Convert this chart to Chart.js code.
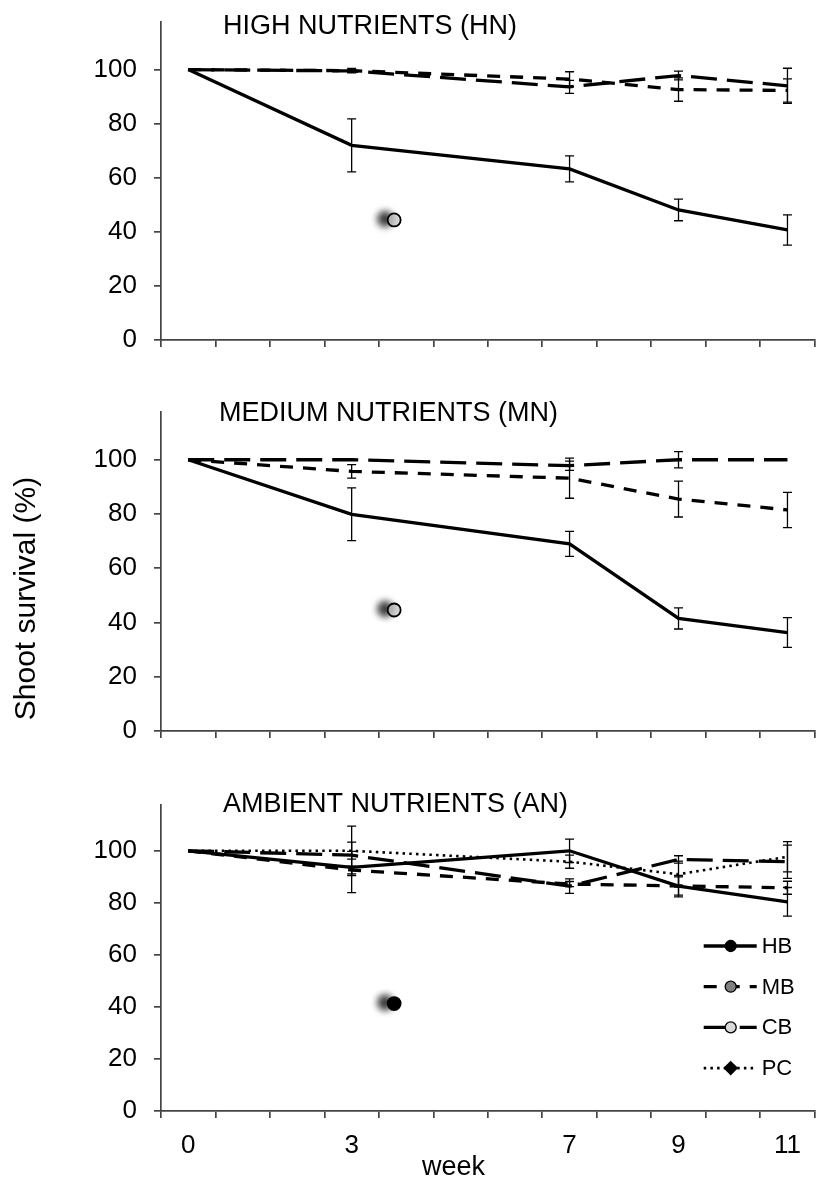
<!doctype html>
<html lang="en">

<head>
	<meta charset="utf-8">
	<title>Shoot survival</title>
	<style>
		* {
			margin: 0;
			padding: 0;
		}

		body {
			width: 823px;
			height: 1182px;
			background: #fff;
			position: relative;
			overflow: hidden;
		}

		canvas {
			position: absolute;
			left: 0;
		}
	</style>
</head>

<body>
	<canvas id="hnChart" width="823" height="375" style="top:0px"></canvas>
	<canvas id="mnChart" width="823" height="395" style="top:375px"></canvas>
	<canvas id="anChart" width="823" height="412" style="top:770px"></canvas>

	<script src="https://cdn.jsdelivr.net/npm/chart.js"></script>

	<script>
		// data
		const weeks = [0, 3, 7, 9, 11]
		const xLabels = ['0', '3', '7', '9', '11']
		const yTicks = [0, 20, 40, 60, 80, 100]
		const seriesNames = ['HB', 'MB', 'CB', 'PC']

		// high nutrients
		const hnHB = [100, 72.0, 63.3, 48.1, 40.7]
		const hnHBerr = [0, 9.8, 4.8, 4.0, 5.6]
		const hnMB = [100, 99.6, 96.5, 92.6, 92.3]
		const hnMBerr = [0, 0.8, 2.7, 4.3, 4.3]
		const hnCB = [100, 99.5, 93.6, 97.8, 94.0]
		const hnCBerr = [0, 0.5, 2.4, 1.6, 6.5]

		// medium nutrients
		const mnHB = [100, 79.9, 69.0, 41.5, 36.3]
		const mnHBerr = [0, 9.7, 4.6, 3.9, 5.5]
		const mnMB = [100, 95.7, 93.2, 85.5, 81.5]
		const mnMBerr = [0, 2.5, 7.4, 6.6, 6.5]
		const mnCB = [100, 100, 97.8, 100, 100]
		const mnCBerr = [0, 0, 1.7, 3.0, 0]

		// ambient nutrients
		const anHB = [100, 93.6, 100, 86.4, 80.4]
		const anHBerr = [0, 9.7, 4.5, 4.1, 5.5]
		const anMB = [100, 92.6, 87.2, 86.5, 85.8]
		const anMBerr = [0, 1.5, 1.0, 3.5, 2.5]
		const anCB = [100, 98.3, 86.4, 96.7, 95.8]
		const anCBerr = [0, 1.5, 2.8, 1.4, 6.4]
		const anPC = [100, 100, 95.8, 91.0, 97.7]
		const anPCerr = [0, 9.5, 2.5, 5.0, 5.8]

		// stray marker in each panel
		const blobWeek = 3.78
		const blobValues = [44.4, 44.6, 41.3]

		// styles
		const fontFamily = "'Liberation Sans', Arial, sans-serif"
		const axisColor = '#444444'
		const lineStyles = {
			HB: { dash: [], width: 3.3 },
			MB: { dash: [13, 10], width: 3.3 },
			CB: { dash: [26, 10], width: 3.3 },
			PC: { dash: [2.5, 4.2], width: 2.6 },
		}
		const markerFills = { HB: '#000000', MB: '#808080', CB: '#d9d9d9', PC: '#000000' }
		const markerShapes = { HB: 'circle', MB: 'circle', CB: 'circle', PC: 'diamond' }

		function lineSet(name, values, errors) {
			return {
				label: name,
				data: weeks.map((w, i) => ({ x: w, y: values[i] })),
				errors: errors,
				borderColor: '#000',
				borderWidth: lineStyles[name].width,
				borderDash: lineStyles[name].dash,
				pointRadius: 0,
				tension: 0,
				fill: false,
			}
		}

		function blobSet(value, fill) {
			return {
				label: 'blob',
				data: [{ x: blobWeek, y: value }],
				showLine: false,
				pointRadius: 6.5,
				pointBorderWidth: 1.8,
				pointBackgroundColor: fill,
				pointBorderColor: '#000',
				shadow: true,
			}
		}

		function drawMarker(ctx, shape, x, y, fill) {
			ctx.beginPath()
			if (shape === 'diamond') {
				const r = 6.5
				ctx.moveTo(x, y - r)
				ctx.lineTo(x + r, y)
				ctx.lineTo(x, y + r)
				ctx.lineTo(x - r, y)
				ctx.closePath()
			} else {
				ctx.arc(x, y, 5.5, 0, Math.PI * 2)
			}
			ctx.fillStyle = fill
			ctx.fill()
			ctx.lineWidth = 1.3
			ctx.strokeStyle = '#000'
			ctx.stroke()
		}

		// error bars from the dataset values
		const errorBars = {
			id: 'errorBars',
			afterDatasetsDraw(chart) {
				const ctx = chart.ctx
				const xs = chart.scales.x
				const ys = chart.scales.y
				ctx.save()
				ctx.strokeStyle = '#000'
				ctx.lineWidth = 1.3
				chart.data.datasets.forEach(ds => {
					if (!ds.errors) return
					ds.data.forEach((p, i) => {
						const e = ds.errors[i]
						if (!e) return
						const px = xs.getPixelForValue(p.x)
						const top = ys.getPixelForValue(p.y + e)
						const bot = ys.getPixelForValue(p.y - e)
						ctx.beginPath()
						ctx.moveTo(px, top)
						ctx.lineTo(px, bot)
						ctx.moveTo(px - 4.5, top)
						ctx.lineTo(px + 4.5, top)
						ctx.moveTo(px - 4.5, bot)
						ctx.lineTo(px + 4.5, bot)
						ctx.stroke()
					})
				})
				ctx.restore()
			}
		}

		// blurred shadow behind the stray marker
		const shadowPoint = {
			id: 'shadowPoint',
			beforeDatasetDraw(chart, args) {
				if (!chart.data.datasets[args.index].shadow) return
				const ctx = chart.ctx
				ctx.save()
				ctx.shadowColor = 'rgba(0,0,0,0.85)'
				ctx.shadowBlur = 7
				ctx.shadowOffsetX = -9
				ctx.shadowOffsetY = -1
			},
			afterDatasetDraw(chart, args) {
				if (!chart.data.datasets[args.index].shadow) return
				chart.ctx.restore()
			}
		}

		// panel title, y title, "week" and the legend
		const panelText = {
			id: 'panelText',
			afterDraw(chart, args, opts) {
				const ctx = chart.ctx
				const area = chart.chartArea
				ctx.save()
				ctx.fillStyle = '#000'
				ctx.textBaseline = 'alphabetic'
				ctx.textAlign = 'left'
				ctx.font = '27px ' + fontFamily
				ctx.fillText(opts.title, opts.titleX, opts.titleY)

				if (opts.yTitle) {
					ctx.save()
					ctx.translate(35, opts.yTitleY)
					ctx.rotate(-Math.PI / 2)
					ctx.textAlign = 'center'
					ctx.font = '30px ' + fontFamily
					ctx.fillText(opts.yTitle, 0, 0)
					ctx.restore()
				}

				if (opts.xTitle) {
					ctx.textAlign = 'center'
					ctx.font = '27px ' + fontFamily
					ctx.fillText(opts.xTitle, opts.xTitleX, opts.xTitleY)
				}

				if (opts.legend) {
					const x0 = area.right - 111
					let y = area.top + 141
					chart.data.datasets.forEach(ds => {
						if (!seriesNames.includes(ds.label)) return
						ctx.save()
						ctx.strokeStyle = '#000'
						ctx.lineWidth = ds.borderWidth
						ctx.setLineDash(ds.borderDash)
						ctx.beginPath()
						ctx.moveTo(x0, y)
						ctx.lineTo(x0 + 53, y)
						ctx.stroke()
						ctx.restore()
						drawMarker(ctx, markerShapes[ds.label], x0 + 27, y, markerFills[ds.label])
						ctx.fillStyle = '#000'
						ctx.textAlign = 'left'
						ctx.textBaseline = 'middle'
						ctx.font = '22px ' + fontFamily
						ctx.fillText(ds.label, x0 + 58, y + 1)
						y += 40.7
					})
				}
				ctx.restore()
			}
		}

		function makeChart(id, datasets, layout, text, showLabels) {
			const marks = []
			for (let v = -0.5; v <= 11.5; v += 1) marks.push(v)
			const xTickValues = showLabels ? marks.concat(weeks).sort((a, b) => a - b) : marks

			const config = {
				type: 'line',
				data: { datasets: datasets },
				options: {
					responsive: false,
					animation: false,
					events: [],
					layout: { padding: layout.padding },
					scales: {
						x: {
							type: 'linear',
							min: -0.5,
							max: 11.5,
							afterBuildTicks: s => { s.ticks = xTickValues.map(v => ({ value: v })) },
							afterFit: s => {
								s.height = layout.xHeight
								s.paddingLeft = 0
								s.paddingRight = 0
							},
							grid: {
								drawOnChartArea: false,
								tickLength: 7,
								lineWidth: 1.7,
								color: axisColor,
								tickColor: c => (c.tick && c.tick.label !== '' ? 'rgba(0,0,0,0)' : axisColor),
							},
							border: { color: axisColor, width: 1.7 },
							ticks: {
								display: showLabels,
								autoSkip: false,
								maxRotation: 0,
								minRotation: 0,
								padding: 12,
								color: '#000',
								font: { size: 26, family: fontFamily },
								callback: v => {
									const i = weeks.indexOf(v)
									return i >= 0 ? xLabels[i] : ''
								}
							}
						},
						y: {
							min: 0,
							max: 117.6,
							afterBuildTicks: s => { s.ticks = yTicks.map(v => ({ value: v })) },
							afterFit: s => {
								s.width = 161
								s.paddingTop = 0
								s.paddingBottom = 0
							},
							grid: {
								drawOnChartArea: false,
								tickLength: 7,
								lineWidth: 1.7,
								color: axisColor,
							},
							border: { color: axisColor, width: 1.7 },
							ticks: {
								padding: 17,
								color: '#000',
								font: { size: 26, family: fontFamily },
							}
						}
					},
					plugins: {
						legend: { display: false },
						tooltip: { enabled: false },
						panelText: text,
					}
				},
				plugins: [shadowPoint, errorBars, panelText]
			}
			return new Chart(document.getElementById(id), config)
		}

		// render
		makeChart('hnChart', [
			lineSet('HB', hnHB, hnHBerr),
			lineSet('MB', hnMB, hnMBerr),
			lineSet('CB', hnCB, hnCBerr),
			blobSet(blobValues[0], '#d9d9d9'),
		], { padding: { top: 22, bottom: 23, left: 0, right: 2 }, xHeight: 12 },
			{ title: 'HIGH NUTRIENTS (HN)', titleX: 223, titleY: 34 }, false)

		makeChart('mnChart', [
			lineSet('HB', mnHB, mnHBerr),
			lineSet('MB', mnMB, mnMBerr),
			lineSet('CB', mnCB, mnCBerr),
			blobSet(blobValues[1], '#d9d9d9'),
		], { padding: { top: 37, bottom: 27, left: 0, right: 2 }, xHeight: 12 },
			{ title: 'MEDIUM NUTRIENTS (MN)', titleX: 219, titleY: 46, yTitle: 'Shoot survival (%)', yTitleY: 223.5 }, false)

		makeChart('anChart', [
			lineSet('HB', anHB, anHBerr),
			lineSet('MB', anMB, anMBerr),
			lineSet('CB', anCB, anCBerr),
			lineSet('PC', anPC, anPCerr),
			blobSet(blobValues[2], '#000000'),
		], { padding: { top: 35, bottom: 11, left: 0, right: 2 }, xHeight: 60 },
			{ title: 'AMBIENT NUTRIENTS (AN)', titleX: 223, titleY: 41.7, xTitle: 'week', xTitleX: 453.5, xTitleY: 405, legend: true }, true)
	</script>

</body>

</html>
